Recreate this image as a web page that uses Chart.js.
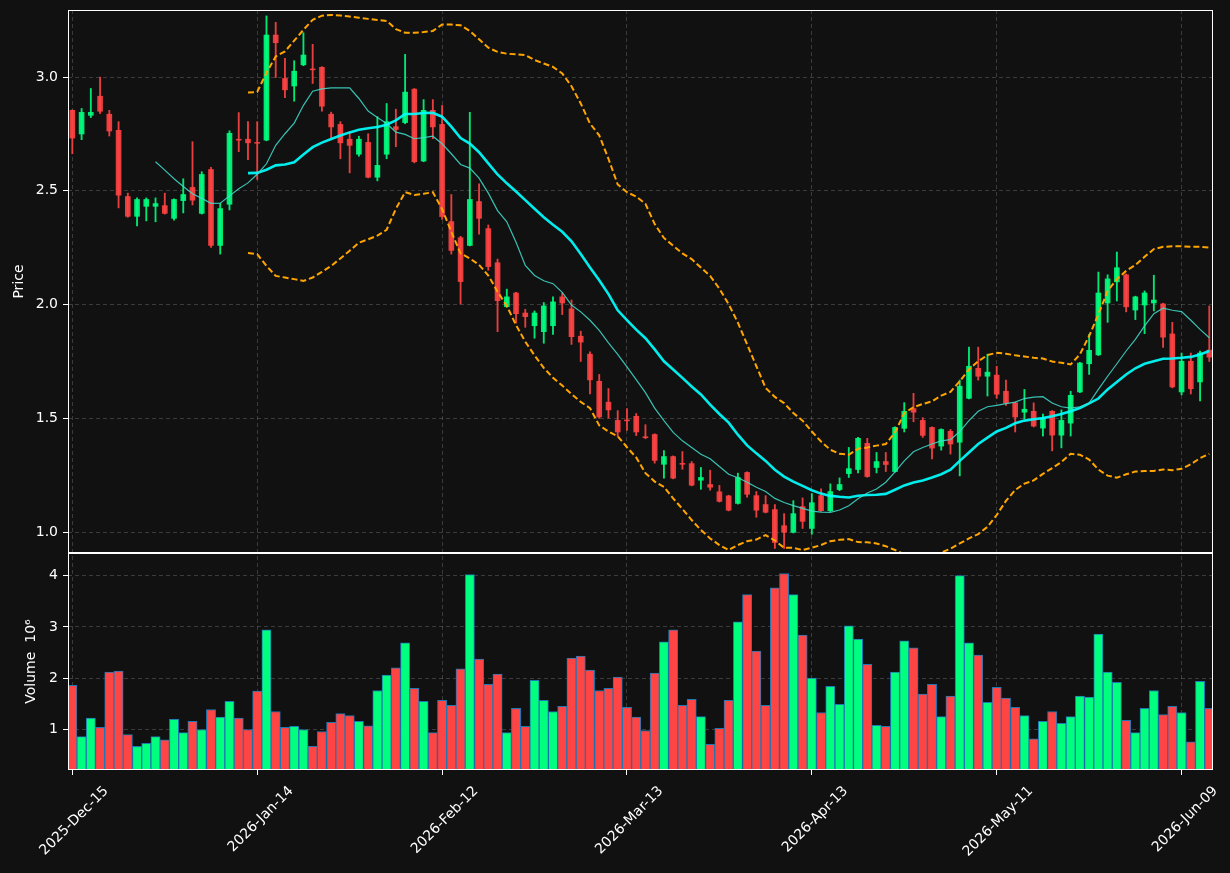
<!DOCTYPE html>
<html>
<head>
<meta charset="utf-8">
<script src="https://cdn.jsdelivr.net/npm/chart.js@4.4.1/dist/chart.umd.min.js"></script>
<style>
  html, body { margin: 0; padding: 0; background: #111111; }
  #wrap { width: 1230px; height: 873px; }
</style>
</head>
<body>
<div id="wrap"><canvas id="chart" width="1230" height="873"></canvas></div>
<script>
// x tick labels (every 20th trading day)
const tickIdx = [0, 20, 40, 60, 80, 100, 120];
const tickLabels = ['2025-Dec-15', '2026-Jan-14', '2026-Feb-12', '2026-Mar-13', '2026-Apr-13', '2026-May-11', '2026-Jun-09'];

// OHLC, one entry per trading day
const opens = [
  2.854, 2.75, 2.832, 2.916, 2.837, 2.766, 2.475, 2.388, 2.432, 2.432,
  2.435, 2.379, 2.457, 2.515, 2.401, 2.594, 2.26, 2.441, 2.727, 2.727,
  2.713, 2.723, 3.185, 2.994, 2.961, 3.054, 3.036, 3.043, 2.837, 2.792,
  2.727, 2.661, 2.713, 2.56, 2.661, 2.782, 2.80, 2.947, 2.631, 2.854,
  2.792, 2.365, 2.294, 2.26, 2.453, 2.334, 2.184, 1.991, 2.051, 1.963,
  1.907, 1.881, 1.907, 2.034, 1.981, 1.861, 1.782, 1.663, 1.571, 1.491,
  1.493, 1.509, 1.419, 1.429, 1.298, 1.332, 1.302, 1.301, 1.228, 1.209,
  1.177, 1.159, 1.126, 1.262, 1.16, 1.121, 1.099, 1.028, 0.999, 1.112,
  1.016, 1.16, 1.094, 1.187, 1.257, 1.275, 1.39, 1.284, 1.31, 1.266,
  1.456, 1.543, 1.491, 1.46, 1.378, 1.443, 1.395, 1.588, 1.72, 1.685,
  1.69, 1.619, 1.568, 1.527, 1.531, 1.457, 1.531, 1.426, 1.479, 1.616,
  1.74, 1.779, 2.007, 2.10, 2.131, 1.976, 1.998, 2.007, 2.003, 1.871,
  1.616, 1.751, 1.66, 1.80
];
const highs = [
  2.856, 2.862, 2.95, 3.0, 2.854, 2.804, 2.49, 2.469, 2.469, 2.469,
  2.49, 2.465, 2.553, 2.716, 2.584, 2.603, 2.445, 2.764, 2.844, 2.804,
  2.804, 3.269, 3.241, 3.082, 3.072, 3.195, 3.144, 3.046, 2.846, 2.804,
  2.76, 2.74, 2.751, 2.826, 2.884, 2.859, 3.10, 2.95, 2.901, 2.901,
  2.875, 2.484, 2.30, 2.845, 2.531, 2.35, 2.20, 2.068, 2.054, 1.979,
  1.972, 2.009, 2.034, 2.051, 2.02, 1.883, 1.792, 1.693, 1.631, 1.534,
  1.543, 1.521, 1.472, 1.432, 1.358, 1.335, 1.354, 1.31, 1.284, 1.272,
  1.205, 1.162, 1.259, 1.265, 1.178, 1.16, 1.121, 1.081, 1.138, 1.15,
  1.169, 1.19, 1.212, 1.238, 1.372, 1.416, 1.412, 1.35, 1.35, 1.463,
  1.569, 1.61, 1.503, 1.463, 1.454, 1.451, 1.668, 1.813, 1.813, 1.782,
  1.729, 1.668, 1.571, 1.627, 1.568, 1.519, 1.534, 1.537, 1.619, 1.746,
  1.869, 2.143, 2.131, 2.231, 2.135, 2.037, 2.06, 2.129, 2.006, 1.922,
  1.787, 1.787, 1.796, 1.994
];
const lows = [
  2.663, 2.725, 2.822, 2.84, 2.741, 2.425, 2.384, 2.346, 2.368, 2.364,
  2.398, 2.371, 2.403, 2.438, 2.398, 2.251, 2.222, 2.416, 2.672, 2.637,
  2.55, 2.72, 2.998, 2.91, 2.894, 3.05, 2.972, 2.85, 2.732, 2.641,
  2.579, 2.652, 2.557, 2.544, 2.641, 2.694, 2.795, 2.623, 2.628, 2.729,
  2.375, 2.222, 2.002, 2.258, 2.31, 2.151, 1.881, 1.988, 1.918, 1.90,
  1.852, 1.83, 1.869, 1.956, 1.825, 1.75, 1.607, 1.50, 1.501, 1.42,
  1.447, 1.424, 1.41, 1.303, 1.237, 1.234, 1.276, 1.203, 1.188, 1.184,
  1.132, 1.093, 1.123, 1.153, 1.065, 1.084, 0.928, 0.928, 0.996, 1.016,
  0.99, 1.091, 1.09, 1.182, 1.24, 1.26, 1.241, 1.26, 1.266, 1.263,
  1.44, 1.485, 1.416, 1.322, 1.36, 1.343, 1.247, 1.585, 1.668, 1.598,
  1.588, 1.557, 1.44, 1.497, 1.462, 1.422, 1.357, 1.37, 1.422, 1.613,
  1.693, 1.776, 1.922, 2.016, 1.968, 1.934, 1.872, 1.972, 1.812, 1.634,
  1.603, 1.607, 1.576, 1.75
];
const closes = [
  2.732, 2.845, 2.845, 2.85, 2.763, 2.481, 2.388, 2.462, 2.462, 2.444,
  2.401, 2.462, 2.484, 2.459, 2.572, 2.26, 2.422, 2.753, 2.723, 2.711,
  2.709, 3.185, 3.151, 2.944, 3.026, 3.097, 3.032, 2.872, 2.781, 2.711,
  2.70, 2.727, 2.56, 2.612, 2.804, 2.77, 2.934, 2.628, 2.854, 2.781,
  2.387, 2.238, 2.101, 2.462, 2.379, 2.167, 2.017, 2.034, 1.96, 1.947,
  1.963, 1.994, 2.012, 2.007, 1.859, 1.835, 1.669, 1.506, 1.537, 1.44,
  1.489, 1.44, 1.415, 1.315, 1.332, 1.237, 1.298, 1.206, 1.24, 1.197,
  1.135, 1.096, 1.24, 1.166, 1.096, 1.087, 0.954, 0.999, 1.081, 1.047,
  1.129, 1.094, 1.178, 1.209, 1.279, 1.412, 1.244, 1.31, 1.297, 1.46,
  1.531, 1.527, 1.425, 1.369, 1.451, 1.387, 1.641, 1.729, 1.685, 1.703,
  1.606, 1.567, 1.506, 1.54, 1.466, 1.50, 1.426, 1.491, 1.601, 1.743,
  1.799, 2.051, 2.113, 2.162, 1.99, 2.034, 2.051, 2.02, 1.857, 1.638,
  1.751, 1.63, 1.787, 1.769
];

// volume in millions
const volumes = [
  1.86, 0.86, 1.22, 1.04, 2.12, 2.14, 0.90, 0.67, 0.73, 0.86,
  0.80, 1.20, 0.94, 1.16, 1.00, 1.39, 1.24, 1.55, 1.22, 1.00,
  1.75, 2.94, 1.35, 1.04, 1.06, 1.00, 0.67, 0.96, 1.14, 1.31,
  1.27, 1.16, 1.07, 1.76, 2.06, 2.20, 2.69, 1.80, 1.55, 0.94,
  1.57, 1.47, 2.18, 4.02, 2.37, 1.88, 2.08, 0.94, 1.41, 1.06,
  1.96, 1.57, 1.35, 1.45, 2.39, 2.43, 2.16, 1.76, 1.80, 2.02,
  1.43, 1.24, 0.98, 2.10, 2.71, 2.94, 1.47, 1.59, 1.25, 0.71,
  1.02, 1.57, 3.10, 3.63, 2.53, 1.47, 3.76, 4.04, 3.63, 2.84,
  2.00, 1.33, 1.84, 1.49, 3.02, 2.76, 2.27, 1.08, 1.06, 2.12,
  2.73, 2.59, 1.69, 1.88, 1.25, 1.65, 4.00, 2.69, 2.45, 1.53,
  1.82, 1.61, 1.43, 1.27, 0.82, 1.16, 1.35, 1.12, 1.25, 1.65,
  1.63, 2.86, 2.12, 1.92, 1.18, 0.94, 1.41, 1.76, 1.29, 1.45,
  1.33, 0.76, 1.94, 1.41
];

// fast average, starts at day 9
const maFastStart = 9;
const maFast = [
  2.628, 2.591, 2.553, 2.519, 2.487, 2.467, 2.445, 2.446, 2.478, 2.509,
  2.535, 2.573, 2.619, 2.700, 2.751, 2.798, 2.876, 2.938, 2.948, 2.953,
  2.953, 2.953, 2.906, 2.851, 2.822, 2.796, 2.758, 2.748, 2.729, 2.734,
  2.740, 2.707, 2.663, 2.616, 2.600, 2.556, 2.490, 2.413, 2.364, 2.274,
  2.172, 2.128, 2.105, 2.092, 2.054, 1.998, 1.968, 1.931, 1.887, 1.832,
  1.781, 1.726, 1.670, 1.613, 1.545, 1.490, 1.438, 1.401, 1.372, 1.342,
  1.322, 1.288, 1.254, 1.239, 1.219, 1.197, 1.178, 1.148, 1.130, 1.116,
  1.104, 1.092, 1.088, 1.087, 1.097, 1.116, 1.146, 1.172, 1.189, 1.219,
  1.265, 1.313, 1.353, 1.372, 1.387, 1.401, 1.406, 1.442, 1.490, 1.531,
  1.551, 1.557, 1.565, 1.571, 1.587, 1.593, 1.595, 1.567, 1.551, 1.545,
  1.551, 1.567, 1.627, 1.685, 1.740, 1.796, 1.847, 1.906, 1.960, 1.984,
  1.975, 1.969, 1.931, 1.891, 1.854
];

// slow average and bands, start at day 19
const maSlowStart = 19;
const maSlow = [
  2.578, 2.579, 2.593, 2.612, 2.616, 2.626, 2.660, 2.692, 2.712, 2.728,
  2.743, 2.757, 2.769, 2.775, 2.781, 2.791, 2.810, 2.838, 2.838, 2.842,
  2.843, 2.826, 2.782, 2.732, 2.708, 2.670, 2.621, 2.572, 2.533, 2.497,
  2.459, 2.421, 2.384, 2.351, 2.320, 2.278, 2.222, 2.163, 2.107, 2.046,
  1.975, 1.932, 1.890, 1.852, 1.803, 1.751, 1.715, 1.678, 1.640, 1.605,
  1.560, 1.519, 1.481, 1.428, 1.381, 1.346, 1.313, 1.274, 1.244, 1.222,
  1.203, 1.184, 1.169, 1.159, 1.155, 1.152, 1.160, 1.163, 1.164, 1.168,
  1.186, 1.205, 1.218, 1.227, 1.240, 1.254, 1.274, 1.313, 1.350, 1.387,
  1.415, 1.442, 1.458, 1.478, 1.490, 1.496, 1.501, 1.509, 1.519, 1.531,
  1.545, 1.566, 1.587, 1.627, 1.660, 1.693, 1.720, 1.740, 1.751, 1.762,
  1.763, 1.766, 1.770, 1.781, 1.796
];
const bandUpper = [
  2.932, 2.935, 3.019, 3.091, 3.113, 3.160, 3.208, 3.252, 3.270, 3.273,
  3.271, 3.266, 3.261, 3.256, 3.251, 3.247, 3.211, 3.195, 3.195, 3.198,
  3.203, 3.231, 3.231, 3.228, 3.203, 3.166, 3.129, 3.111, 3.103, 3.100,
  3.097, 3.075, 3.060, 3.045, 3.016, 2.960, 2.884, 2.796, 2.744, 2.641,
  2.528, 2.494, 2.475, 2.443, 2.354, 2.293, 2.259, 2.225, 2.200, 2.163,
  2.126, 2.070, 2.002, 1.921, 1.825, 1.729, 1.634, 1.594, 1.567, 1.523,
  1.490, 1.442, 1.398, 1.362, 1.344, 1.340, 1.366, 1.372, 1.380, 1.387,
  1.438, 1.523, 1.549, 1.563, 1.575, 1.600, 1.616, 1.663, 1.715, 1.751,
  1.778, 1.788, 1.784, 1.777, 1.772, 1.766, 1.763, 1.750, 1.744, 1.737,
  1.781, 1.862, 1.957, 2.060, 2.112, 2.148, 2.174, 2.210, 2.244, 2.254,
  2.256, 2.256, 2.254, 2.254, 2.251
];
const bandLower = [
  2.227, 2.222, 2.170, 2.126, 2.119, 2.112, 2.104, 2.119, 2.144, 2.170,
  2.203, 2.237, 2.272, 2.287, 2.303, 2.329, 2.421, 2.494, 2.482, 2.487,
  2.494, 2.420, 2.320, 2.225, 2.203, 2.175, 2.128, 2.057, 1.994, 1.910,
  1.837, 1.777, 1.722, 1.678, 1.644, 1.607, 1.572, 1.545, 1.469, 1.442,
  1.421, 1.373, 1.328, 1.259, 1.222, 1.199, 1.148, 1.102, 1.053, 1.009,
  0.972, 0.943, 0.921, 0.943, 0.960, 0.967, 0.987, 0.963, 0.931, 0.931,
  0.921, 0.931, 0.943, 0.960, 0.966, 0.969, 0.956, 0.955, 0.950, 0.938,
  0.921, 0.903, 0.895, 0.894, 0.896, 0.910, 0.927, 0.950, 0.972, 0.991,
  1.023, 1.075, 1.137, 1.185, 1.213, 1.227, 1.256, 1.281, 1.308, 1.344,
  1.340, 1.319, 1.275, 1.248, 1.239, 1.254, 1.266, 1.269, 1.269, 1.275,
  1.272, 1.278, 1.298, 1.325, 1.344
];

const upBody = 'rgba(0,255,127,0.9)';
const downBody = 'rgba(255,68,68,0.9)';
const upVol = '#00ff7f';
const downVol = '#ff4444';

const idx = closes.map((c, i) => i);
const isUp = idx.map(i => closes[i] >= opens[i]);

function toPoints(values, start) {
  return values.map((v, k) => ({ x: start + k, y: v }));
}

// keep every dataset inside its own panel
const panelClip = {
  id: 'panelClip',
  beforeDatasetDraw(chart, args) {
    const ys = chart.scales[args.meta.yAxisID];
    const a = chart.chartArea;
    chart.ctx.save();
    chart.ctx.beginPath();
    chart.ctx.rect(a.left, ys.top, a.right - a.left, ys.bottom - ys.top);
    chart.ctx.clip();
  },
  afterDatasetDraw(chart) {
    chart.ctx.restore();
  }
};

// white frame round both panels
const panelFrame = {
  id: 'panelFrame',
  afterDraw(chart) {
    const ctx = chart.ctx;
    const a = chart.chartArea;
    ctx.save();
    ctx.strokeStyle = '#ffffff';
    ctx.lineWidth = 1;
    ['y', 'yVol'].forEach(id => {
      const s = chart.scales[id];
      ctx.strokeRect(Math.round(a.left) + 0.5, Math.round(s.top) + 0.5,
        Math.round(a.right - a.left) - 1, Math.round(s.bottom - s.top) - 1);
    });
    ctx.restore();
  }
};

function fitLeftAxis(s) {
  s.width = 67;
  s.paddingTop = 0;
  s.paddingBottom = 0;
}

Chart.defaults.font.family = "'DejaVu Sans', sans-serif";
Chart.defaults.font.size = 14;
Chart.defaults.color = '#ffffff';

const gridColor = 'rgba(150,150,150,0.32)';

let ctx = document.getElementById('chart');
const data = {
  datasets: [
    {
      type: 'line',
      label: 'MA fast',
      data: toPoints(maFast, maFastStart),
      yAxisID: 'y',
      borderColor: 'rgba(64,224,208,0.85)',
      borderWidth: 1.2,
      pointRadius: 0,
      order: 1,
    },
    {
      type: 'line',
      label: 'MA slow',
      data: toPoints(maSlow, maSlowStart),
      yAxisID: 'y',
      borderColor: 'rgba(0,255,255,0.92)',
      borderWidth: 2.6,
      pointRadius: 0,
      order: 1,
    },
    {
      type: 'line',
      label: 'Upper',
      data: toPoints(bandUpper, maSlowStart),
      yAxisID: 'y',
      borderColor: '#ffa500',
      borderWidth: 2,
      borderDash: [6, 3],
      pointRadius: 0,
      order: 1,
    },
    {
      type: 'line',
      label: 'Lower',
      data: toPoints(bandLower, maSlowStart),
      yAxisID: 'y',
      borderColor: '#ffa500',
      borderWidth: 2,
      borderDash: [6, 3],
      pointRadius: 0,
      order: 1,
    },
    {
      type: 'bar',
      label: 'Wick',
      data: idx.map(i => ({ x: i, y: [lows[i], highs[i]] })),
      yAxisID: 'y',
      backgroundColor: idx.map(i => isUp[i] ? upBody : downBody),
      barThickness: 1.2,
      order: 3,
    },
    {
      type: 'bar',
      label: 'Body',
      data: idx.map(i => ({ x: i, y: [opens[i], closes[i]] })),
      yAxisID: 'y',
      backgroundColor: idx.map(i => isUp[i] ? upBody : downBody),
      barThickness: 5,
      order: 2,
    },
    {
      type: 'bar',
      label: 'Volume',
      data: idx.map(i => ({ x: i, y: volumes[i] })),
      yAxisID: 'yVol',
      backgroundColor: idx.map(i => isUp[i] ? upVol : downVol),
      borderColor: '#1f77b4',
      borderWidth: 1,
      borderSkipped: false,
      barThickness: 9.25,
      order: 2,
    },
  ],
};

const config = {
  data: data,
  plugins: [panelClip, panelFrame],
  options: {
    responsive: false,
    animation: false,
    devicePixelRatio: 1,
    layout: { padding: { top: 10, right: 17, bottom: 0, left: 0 } },
    plugins: { legend: { display: false }, tooltip: { enabled: false } },
    datasets: { bar: { grouped: false } },
    scales: {
      x: {
        type: 'linear',
        position: 'bottom',
        offset: false,
        min: -0.47,
        max: 123.4,
        afterBuildTicks: (s) => { s.ticks = tickIdx.map(v => ({ value: v })); },
        afterFit: (s) => { s.height = 103; },
        grid: { offset: false, color: gridColor, tickColor: '#ffffff', tickLength: 5 },
        border: { display: false, dash: [4, 3] },
        ticks: {
          autoSkip: false,
          maxRotation: 45,
          minRotation: 45,
          labelOffset: 34,
          padding: 8,
          color: '#ffffff',
          callback: (v) => tickLabels[tickIdx.indexOf(v)],
        },
      },
      y: {
        type: 'linear',
        position: 'left',
        stack: 'panels',
        stackWeight: 543,
        weight: 1,
        min: 0.908,
        max: 3.295,
        afterBuildTicks: (s) => { s.ticks = [1.0, 1.5, 2.0, 2.5, 3.0].map(v => ({ value: v })); },
        afterFit: fitLeftAxis,
        grid: { color: gridColor, tickColor: '#ffffff', tickLength: 5 },
        border: { display: false, dash: [4, 3] },
        ticks: { padding: 5, color: '#ffffff', callback: (v) => v.toFixed(1) },
        title: { display: true, text: 'Price', color: '#ffffff', padding: { top: 10, bottom: 0 } },
      },
      yVol: {
        type: 'linear',
        position: 'left',
        stack: 'panels',
        stackWeight: 217,
        weight: 0,
        min: 0.21,
        max: 4.44,
        afterBuildTicks: (s) => { s.ticks = [1, 2, 3, 4].map(v => ({ value: v })); },
        afterFit: fitLeftAxis,
        grid: { color: gridColor, tickColor: '#ffffff', tickLength: 5 },
        border: { display: false, dash: [4, 3] },
        ticks: { padding: 5, color: '#ffffff', callback: (v) => String(v) },
        title: { display: true, text: 'Volume  10\u2076', color: '#ffffff', padding: { top: 22, bottom: 0 } },
      },
    },
  },
};
new Chart(ctx, config);
</script>
</body>
</html>
